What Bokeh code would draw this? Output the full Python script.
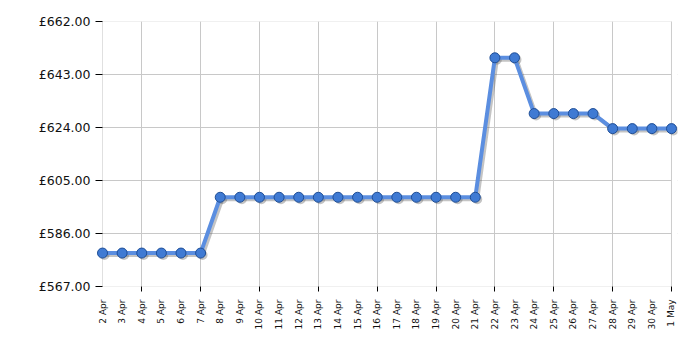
import numpy as np
from bokeh.plotting import figure
from bokeh.models import FixedTicker, PrintfTickFormatter, Range1d, ColumnDataSource, BoxAnnotation
from bokeh.embed import file_html
from bokeh.resources import INLINE

date_labels = ["2 Apr", "3 Apr", "4 Apr", "5 Apr", "6 Apr", "7 Apr", "8 Apr", "9 Apr",
               "10 Apr", "11 Apr", "12 Apr", "13 Apr", "14 Apr", "15 Apr", "16 Apr",
               "17 Apr", "18 Apr", "19 Apr", "20 Apr", "21 Apr", "22 Apr", "23 Apr",
               "24 Apr", "25 Apr", "26 Apr", "27 Apr", "28 Apr", "29 Apr", "30 Apr", "1 May"]
prices = [578.99, 578.99, 578.99, 578.99, 578.99, 578.99,
          598.99, 598.99, 598.99, 598.99, 598.99, 598.99, 598.99,
          598.99, 598.99, 598.99, 598.99, 598.99, 598.99, 598.99,
          648.99, 648.99,
          628.99, 628.99, 628.99, 628.99,
          623.6, 623.6, 623.6, 623.6]
y_ticks = [567, 586, 605, 624, 643, 662]
grid_days = [2, 5, 8, 11, 14, 17, 20, 23, 26, 29]

n = len(prices)
x = np.arange(n)
src = ColumnDataSource(dict(x=x, y=prices))
shadow = ColumnDataSource(dict(x=x + 0.1, y=np.array(prices) - 0.7))

pad = 0.306  # room so edge markers are not clipped
p = figure(width=700, height=350, output_backend="svg", toolbar_location=None,
           x_range=Range1d(-pad, n - 1 + pad), y_range=Range1d(567, 662),
           min_border_left=96, min_border_right=23, min_border_top=21, min_border_bottom=64)
p.outline_line_color = None
p.background_fill_color = "white"
p.border_fill_color = "white"

# y axis
p.yaxis.ticker = FixedTicker(ticks=y_ticks)
p.yaxis.formatter = PrintfTickFormatter(format="£%.2f")
p.yaxis.major_label_text_font = "DejaVu Sans"
p.yaxis.major_label_text_font_size = "12.5px"
p.yaxis.major_label_text_color = "#111111"
p.yaxis.major_tick_out = 1
p.yaxis.major_tick_in = 6
p.yaxis.major_tick_line_color = "black"
p.yaxis.minor_tick_line_color = None
p.yaxis.axis_line_color = None
p.yaxis.major_label_standoff = 5
p.ygrid.ticker = FixedTicker(ticks=y_ticks)
p.ygrid.grid_line_color = "#c8c8c8"

# x axis
p.xaxis.ticker = FixedTicker(ticks=list(range(n)), minor_ticks=grid_days)
p.xaxis.major_label_overrides = {i: s for i, s in enumerate(date_labels)}
p.xaxis.major_label_orientation = np.pi / 2
p.xaxis.major_label_text_font = "DejaVu Sans"
p.xaxis.major_label_text_font_size = "9px"
p.xaxis.major_label_text_color = "#111111"
p.xaxis.major_tick_line_color = None
p.xaxis.major_tick_out = 0
p.xaxis.major_tick_in = 0
p.xaxis.minor_tick_line_color = "black"
p.xaxis.minor_tick_out = 5
p.xaxis.minor_tick_in = 0
p.xaxis.major_label_standoff = 8
p.xaxis.axis_line_color = None
p.xgrid.ticker = FixedTicker(ticks=grid_days)
p.xgrid.grid_line_color = "#c8c8c8"

# white pads hide grid lines outside the data frame, then the frame border
p.add_layout(BoxAnnotation(right=0, fill_color="white", fill_alpha=1, line_color=None, level="underlay"))
p.add_layout(BoxAnnotation(left=n - 1, fill_color="white", fill_alpha=1, line_color=None, level="underlay"))
p.add_layout(BoxAnnotation(left=0, right=n - 1, bottom=567, top=662, fill_color=None, fill_alpha=0,
                           line_color="#999999", line_width=1, level="underlay"))

# shadow
p.line("x", "y", source=shadow, line_color="#555555", line_width=4, line_alpha=0.35)
p.scatter("x", "y", source=shadow, size=10, fill_color="#555555", fill_alpha=0.35, line_color=None)
# line + markers
p.line("x", "y", source=src, line_color="#5b8ee0", line_width=4)
p.scatter("x", "y", source=src, size=10, fill_color="#3f7ad3", line_color="#1f4e96", line_width=1)

open("out.html", "w").write(file_html(p, INLINE))
